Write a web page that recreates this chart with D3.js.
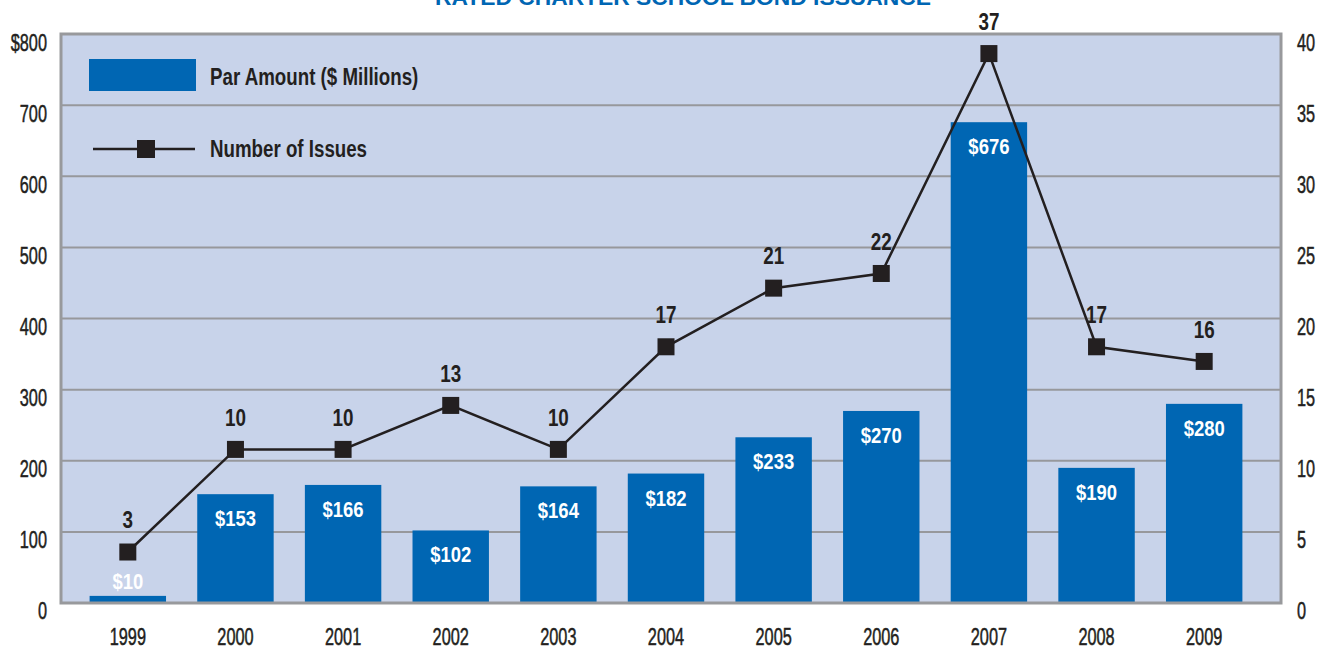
<!DOCTYPE html>
<html>
<head>
<meta charset="utf-8">
<title>Rated charter school bond issuance</title>
<style>
  html, body { margin: 0; padding: 0; background: #fff; }
  svg { display: block; font-family: "Liberation Sans", Arial, sans-serif; }
</style>
</head>
<body>
<svg width="1325" height="650"></svg>
<script src="https://d3js.org/d3.v7.min.js"></script>
<script>
var years = ['1999', '2000', '2001', '2002', '2003', '2004', '2005', '2006', '2007', '2008', '2009'];
var parAmount = [10, 153, 166, 102, 164, 182, 233, 270, 676, 190, 280];
var issues = [3, 10, 10, 13, 10, 17, 21, 22, 37, 17, 16];
var leftTicks = [0, 100, 200, 300, 400, 500, 600, 700, 800];
var leftTickLabels = ['0', '100', '200', '300', '400', '500', '600', '700', '$800'];
var rightTicks = [0, 5, 10, 15, 20, 25, 30, 35, 40];
var title = 'RATED CHARTER SCHOOL BOND ISSUANCE';
var legendLabels = ['Par Amount ($ Millions)', 'Number of Issues'];

var blue = '#0066b3';
var ink = '#231f20';
var grid = '#97989c';

var svg = d3.select('svg');
var plot = { left: 61, right: 1281, top: 34, bottom: 603 };

var x = d3.scaleBand().domain(years).range([74, 1258]).paddingInner(0.29).paddingOuter(0.145);
var yLeft = d3.scaleLinear().domain([0, 800]).range([plot.bottom, plot.top]);
// the original plots its markers a touch above the right axis
var yLine = d3.scaleLinear().domain([0, 40]).range([596, 9.6]);
// tick labels sit slightly below their gridlines
var leftLabelY = d3.scaleLinear().domain([0, 800]).range([610, 42]);
var rightLabelY = d3.scaleLinear().domain([0, 40]).range([610, 42]);

function squeeze(sel, dx, dy, sx) {
  sel.attr('x', 0).attr('y', 0).attr('dy', null)
    .attr('transform', 'translate(' + dx + ',' + dy + ') scale(' + sx + ',1)');
}

// title, cut off at the top
svg.append('text')
  .attr('x', 683).attr('y', 5)
  .attr('text-anchor', 'middle')
  .attr('textLength', 496).attr('lengthAdjust', 'spacingAndGlyphs')
  .attr('font-size', 22).attr('font-weight', 'bold')
  .attr('fill', blue)
  .text(title);

// plot background
svg.append('rect')
  .attr('x', plot.left).attr('y', plot.top)
  .attr('width', plot.right - plot.left).attr('height', plot.bottom - plot.top)
  .attr('fill', '#c8d3ea');

// gridlines
svg.append('g')
  .selectAll('line')
  .data(leftTicks.slice(1, -1))
  .enter()
  .append('line')
    .attr('x1', plot.left).attr('x2', plot.right)
    .attr('y1', function(d) { return yLeft(d); })
    .attr('y2', function(d) { return yLeft(d); })
    .attr('stroke', grid).attr('stroke-width', 2);

// bars
svg.append('g')
  .selectAll('rect')
  .data(parAmount)
  .enter()
  .append('rect')
    .attr('x', function(d, i) { return x(years[i]); })
    .attr('y', function(d) { return yLeft(d); })
    .attr('width', x.bandwidth())
    .attr('height', function(d) { return plot.bottom - yLeft(d); })
    .attr('fill', blue);

// bar labels
svg.append('g')
  .selectAll('text')
  .data(parAmount)
  .enter()
  .append('text')
    .attr('text-anchor', 'middle')
    .attr('font-size', 22).attr('font-weight', 'bold')
    .attr('fill', '#ffffff')
    .text(function(d) { return '$' + d; })
    .each(function(d, i) {
      var cy = Math.min(yLeft(d) + 24, plot.bottom - 22);
      squeeze(d3.select(this), x(years[i]) + x.bandwidth() / 2, cy + 8, 0.84);
    });

// border
svg.append('rect')
  .attr('x', plot.left).attr('y', plot.top)
  .attr('width', plot.right - plot.left).attr('height', plot.bottom - plot.top)
  .attr('fill', 'none')
  .attr('stroke', '#98999c').attr('stroke-width', 3);

// line
var line = d3.line()
  .x(function(d, i) { return x(years[i]) + x.bandwidth() / 2; })
  .y(function(d) { return yLine(d); });

svg.append('path')
  .datum(issues)
  .attr('d', line)
  .attr('fill', 'none')
  .attr('stroke', ink).attr('stroke-width', 2.5);

svg.append('g')
  .selectAll('rect')
  .data(issues)
  .enter()
  .append('rect')
    .attr('x', function(d, i) { return x(years[i]) + x.bandwidth() / 2 - 8.5; })
    .attr('y', function(d) { return yLine(d) - 8.5; })
    .attr('width', 17).attr('height', 17)
    .attr('fill', ink);

svg.append('g')
  .selectAll('text')
  .data(issues)
  .enter()
  .append('text')
    .attr('text-anchor', 'middle')
    .attr('font-size', 23).attr('font-weight', 'bold')
    .attr('fill', ink)
    .text(function(d) { return d; })
    .each(function(d, i) {
      squeeze(d3.select(this), x(years[i]) + x.bandwidth() / 2, yLine(d) - 32 + 8.3, 0.82);
    });

// axes
var leftAxis = svg.append('g')
  .attr('transform', 'translate(' + plot.left + ',0)')
  .call(d3.axisLeft(leftLabelY).tickValues(leftTicks)
    .tickFormat(function(d, i) { return leftTickLabels[i]; }).tickSize(0));

var rightAxis = svg.append('g')
  .attr('transform', 'translate(' + plot.right + ',0)')
  .call(d3.axisRight(rightLabelY).tickValues(rightTicks).tickSize(0));

var bottomAxis = svg.append('g')
  .attr('transform', 'translate(0,' + plot.bottom + ')')
  .call(d3.axisBottom(x).tickSize(0));

[leftAxis, rightAxis, bottomAxis].forEach(function(g) {
  g.select('.domain').remove();
  g.selectAll('text')
    .attr('font-family', '"Liberation Sans", Arial, sans-serif')
    .attr('font-size', 24)
    .attr('fill', ink)
    .attr('stroke', ink).attr('stroke-width', 0.5);
});
leftAxis.selectAll('text').each(function() { squeeze(d3.select(this), -14, 8.5, 0.68); });
rightAxis.selectAll('text').each(function() { squeeze(d3.select(this), 16, 8.5, 0.68); });
bottomAxis.selectAll('text').each(function() { squeeze(d3.select(this), 0, 42, 0.68); });

// legend
var legend = svg.append('g');
legend.append('rect')
  .attr('x', 89).attr('y', 59).attr('width', 107).attr('height', 32)
  .attr('fill', blue);
legend.append('line')
  .attr('x1', 93).attr('x2', 195).attr('y1', 149).attr('y2', 149)
  .attr('stroke', ink).attr('stroke-width', 2.5);
legend.append('rect')
  .attr('x', 137).attr('y', 140).attr('width', 18).attr('height', 18)
  .attr('fill', ink);
legend.selectAll('text')
  .data(legendLabels)
  .enter()
  .append('text')
    .attr('font-size', 24).attr('font-weight', 'bold')
    .attr('fill', ink)
    .text(function(d) { return d; })
    .each(function(d, i) { squeeze(d3.select(this), 210, i === 0 ? 85 : 157, 0.78); });
</script>
</body>
</html>
